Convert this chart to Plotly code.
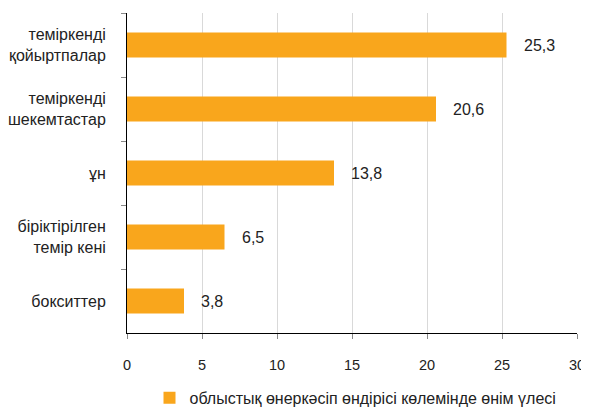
import plotly.graph_objects as go

categories = ["теміркенді<br>қойыртпалар", "теміркенді<br>шекемтастар", "ұн",
              "біріктірілген<br>темір кені", "бокситтер"]
values = [25.3, 20.6, 13.8, 6.5, 3.8]
value_labels = ["25,3", "20,6", "13,8", "6,5", "3,8"]
series_name = "облыстық өнеркәсіп өндірісі көлемінде өнім үлесі"
x_ticks = [0, 5, 10, 15, 20, 25, 30]

color = "#F9A61C"
font = "Liberation Sans, Arial, sans-serif"
txt = "#222222"

fig = go.Figure()
fig.add_trace(go.Bar(
    y=categories, x=values, orientation="h",
    marker=dict(color=color, line=dict(width=0)),
    name=series_name, showlegend=True,
))

for c, v, t in zip(categories, values, value_labels):
    fig.add_annotation(x=v, y=c, text=t, showarrow=False, xanchor="left",
                       xshift=15, font=dict(size=16, color=txt, family=font))

# page body has an 8px default margin, so the figure is sized to fit the window
fig.update_layout(
    width=581, height=402,
    margin=dict(l=119, r=12, t=5, b=77),
    paper_bgcolor="white", plot_bgcolor="white",
    bargap=0.61,
    font=dict(family=font, size=16, color=txt),
    legend=dict(orientation="h", x=0.05, xanchor="left", y=0.03, yanchor="middle",
                yref="container", font=dict(size=16, color=txt), itemwidth=30,
                tracegroupgap=0),
    xaxis=dict(range=[0, 30], tickvals=x_ticks, showgrid=True, gridcolor="#D9D9D9",
               gridwidth=1, zeroline=False, showline=True, linecolor="black",
               linewidth=1, ticks="outside", ticklen=5, tickcolor="#888888",
               tickfont=dict(size=14.5), ticklabelstandoff=14, fixedrange=True,
               automargin=False),
    yaxis=dict(autorange="reversed", showline=True, linecolor="black", linewidth=1,
               ticks="outside", ticklen=5, tickcolor="#888888", tickson="boundaries",
               tickfont=dict(size=16), ticklabelstandoff=17, showgrid=False,
               automargin=False),
)

fig.write_html("out.html")
